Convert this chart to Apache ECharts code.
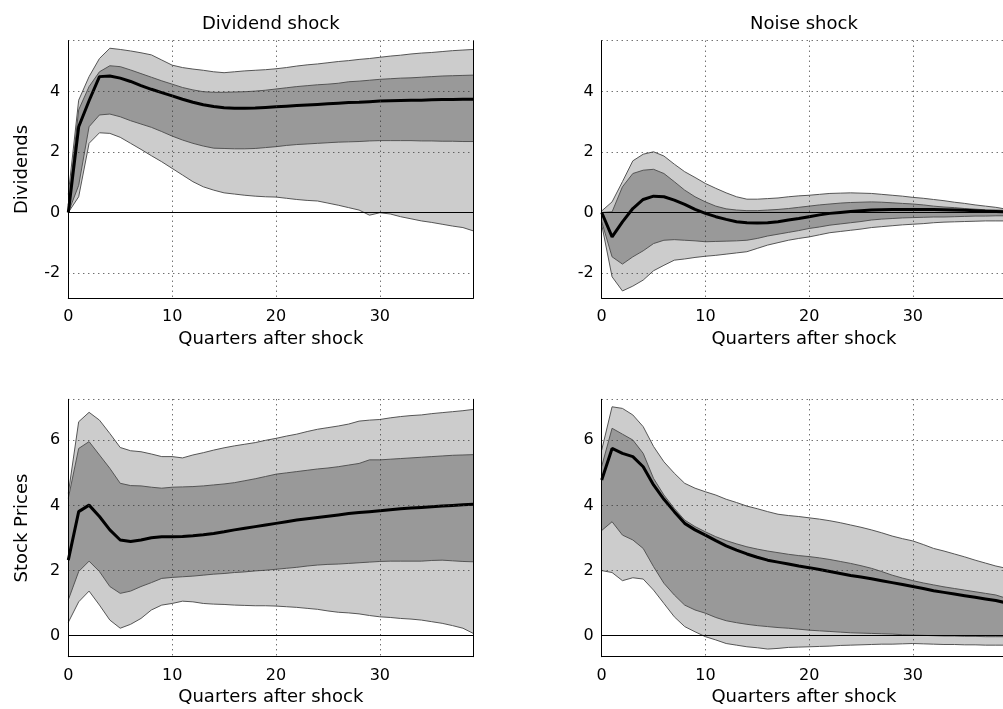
<!DOCTYPE html>
<html><head><meta charset="utf-8">
<script src="https://cdn.jsdelivr.net/npm/echarts@6/dist/echarts.min.js"></script>
<style>html,body{margin:0;padding:0;background:#fff}#c{width:1003px;height:709px}</style>
</head><body><div id="c"></div>
<script>
// ---- data ----
const quarters = Array.from({length: 40}, (_, i) => i);
const panelTitles = ['Dividend shock', 'Noise shock'];
const rowNames = ['Dividends', 'Stock Prices'];
const xAxisName = 'Quarters after shock';

// Dividends response to dividend shock
const divDiv_med  = [0, 2.84, 3.70, 4.50, 4.52, 4.45, 4.34, 4.20, 4.08, 3.97, 3.86, 3.75, 3.65, 3.57, 3.51, 3.47, 3.45, 3.45, 3.46, 3.48, 3.50, 3.52, 3.54, 3.56, 3.58, 3.60, 3.62, 3.64, 3.65, 3.67, 3.69, 3.70, 3.71, 3.72, 3.72, 3.73, 3.74, 3.74, 3.75, 3.75];
const divDiv_hi68 = [0.25, 3.40, 4.17, 4.66, 4.86, 4.83, 4.72, 4.60, 4.48, 4.36, 4.25, 4.14, 4.06, 4.00, 3.98, 3.98, 3.99, 4.00, 4.02, 4.05, 4.09, 4.13, 4.17, 4.20, 4.23, 4.25, 4.28, 4.33, 4.35, 4.38, 4.41, 4.43, 4.45, 4.46, 4.48, 4.50, 4.52, 4.53, 4.54, 4.55];
const divDiv_lo68 = [0, 0.90, 2.84, 3.23, 3.26, 3.17, 3.04, 2.93, 2.82, 2.68, 2.53, 2.40, 2.29, 2.20, 2.13, 2.12, 2.11, 2.11, 2.12, 2.15, 2.18, 2.22, 2.25, 2.27, 2.29, 2.31, 2.33, 2.34, 2.35, 2.37, 2.38, 2.38, 2.38, 2.38, 2.37, 2.37, 2.36, 2.36, 2.35, 2.35];
const divDiv_hi90 = [0.60, 3.72, 4.50, 5.10, 5.44, 5.40, 5.35, 5.29, 5.22, 5.05, 4.88, 4.80, 4.75, 4.71, 4.66, 4.63, 4.66, 4.69, 4.71, 4.73, 4.76, 4.80, 4.85, 4.89, 4.92, 4.96, 5.00, 5.03, 5.07, 5.10, 5.14, 5.18, 5.21, 5.25, 5.28, 5.30, 5.33, 5.36, 5.38, 5.40];
const divDiv_lo90 = [0, 0.52, 2.29, 2.64, 2.62, 2.49, 2.29, 2.09, 1.88, 1.68, 1.46, 1.24, 1.02, 0.85, 0.74, 0.65, 0.61, 0.57, 0.54, 0.52, 0.51, 0.47, 0.43, 0.40, 0.38, 0.31, 0.24, 0.16, 0.08, -0.09, -0.01, -0.05, -0.14, -0.21, -0.28, -0.33, -0.39, -0.45, -0.50, -0.61];

// Dividends response to noise shock
const divNoise_med  = [0, -0.81, -0.31, 0.13, 0.43, 0.54, 0.52, 0.41, 0.27, 0.10, -0.03, -0.14, -0.23, -0.31, -0.34, -0.35, -0.34, -0.31, -0.25, -0.20, -0.14, -0.08, -0.03, 0.00, 0.03, 0.06, 0.08, 0.09, 0.10, 0.10, 0.10, 0.10, 0.10, 0.09, 0.08, 0.07, 0.06, 0.04, 0.03, 0.02];
const divNoise_hi68 = [0, 0.02, 0.85, 1.29, 1.40, 1.43, 1.29, 1.02, 0.74, 0.52, 0.35, 0.21, 0.12, 0.08, 0.06, 0.06, 0.08, 0.10, 0.13, 0.17, 0.21, 0.25, 0.28, 0.31, 0.33, 0.34, 0.35, 0.34, 0.32, 0.30, 0.28, 0.25, 0.21, 0.18, 0.16, 0.13, 0.11, 0.09, 0.08, 0.07];
const divNoise_lo68 = [-0.30, -1.47, -1.71, -1.47, -1.27, -1.03, -0.92, -0.90, -0.92, -0.94, -0.97, -0.96, -0.95, -0.94, -0.92, -0.86, -0.78, -0.72, -0.66, -0.60, -0.53, -0.48, -0.42, -0.38, -0.34, -0.30, -0.25, -0.22, -0.20, -0.18, -0.17, -0.16, -0.15, -0.15, -0.14, -0.13, -0.12, -0.12, -0.11, -0.11];
const divNoise_hi90 = [0.05, 0.35, 1.02, 1.71, 1.93, 2.01, 1.87, 1.60, 1.35, 1.16, 0.96, 0.80, 0.65, 0.52, 0.44, 0.44, 0.46, 0.48, 0.52, 0.55, 0.57, 0.60, 0.63, 0.64, 0.65, 0.64, 0.63, 0.60, 0.57, 0.54, 0.50, 0.47, 0.43, 0.39, 0.34, 0.30, 0.25, 0.21, 0.17, 0.11];
const divNoise_lo90 = [-0.40, -2.13, -2.60, -2.44, -2.24, -1.93, -1.75, -1.58, -1.54, -1.49, -1.45, -1.42, -1.38, -1.34, -1.30, -1.19, -1.08, -1.00, -0.92, -0.86, -0.81, -0.74, -0.67, -0.63, -0.59, -0.55, -0.50, -0.47, -0.44, -0.41, -0.39, -0.37, -0.34, -0.32, -0.31, -0.30, -0.29, -0.28, -0.28, -0.28];

// Stock prices response to dividend shock
const spDiv_med  = [2.32, 3.81, 4.01, 3.66, 3.25, 2.94, 2.89, 2.94, 3.01, 3.04, 3.04, 3.05, 3.07, 3.10, 3.14, 3.19, 3.25, 3.30, 3.35, 3.40, 3.45, 3.50, 3.55, 3.59, 3.63, 3.67, 3.71, 3.75, 3.78, 3.81, 3.84, 3.87, 3.90, 3.92, 3.94, 3.96, 3.98, 4.00, 4.02, 4.04];
const spDiv_hi68 = [4.22, 5.75, 5.96, 5.55, 5.14, 4.68, 4.61, 4.60, 4.56, 4.53, 4.56, 4.57, 4.58, 4.60, 4.63, 4.66, 4.70, 4.76, 4.82, 4.89, 4.96, 5.00, 5.04, 5.08, 5.12, 5.15, 5.19, 5.24, 5.29, 5.40, 5.40, 5.42, 5.44, 5.46, 5.48, 5.50, 5.52, 5.54, 5.55, 5.56];
const spDiv_lo68 = [1.10, 1.97, 2.29, 1.97, 1.51, 1.30, 1.37, 1.51, 1.63, 1.76, 1.79, 1.81, 1.83, 1.86, 1.89, 1.91, 1.94, 1.96, 1.99, 2.01, 2.04, 2.07, 2.10, 2.14, 2.17, 2.19, 2.20, 2.22, 2.24, 2.26, 2.28, 2.29, 2.29, 2.29, 2.29, 2.31, 2.32, 2.30, 2.28, 2.27];
const spDiv_hi90 = [4.37, 6.57, 6.86, 6.62, 6.21, 5.78, 5.68, 5.65, 5.58, 5.50, 5.50, 5.46, 5.55, 5.62, 5.70, 5.77, 5.83, 5.88, 5.93, 6.00, 6.06, 6.13, 6.19, 6.27, 6.34, 6.39, 6.44, 6.50, 6.59, 6.62, 6.64, 6.69, 6.73, 6.76, 6.78, 6.82, 6.85, 6.88, 6.91, 6.95];
const spDiv_lo90 = [0.41, 1.04, 1.37, 0.94, 0.48, 0.23, 0.35, 0.53, 0.79, 0.94, 0.99, 1.06, 1.04, 0.99, 0.97, 0.96, 0.94, 0.93, 0.92, 0.92, 0.91, 0.89, 0.87, 0.84, 0.81, 0.76, 0.72, 0.70, 0.67, 0.62, 0.58, 0.56, 0.53, 0.51, 0.48, 0.43, 0.38, 0.31, 0.23, 0.07];

// Stock prices response to noise shock
const spNoise_med  = [4.78, 5.75, 5.60, 5.50, 5.19, 4.63, 4.19, 3.81, 3.45, 3.25, 3.09, 2.92, 2.76, 2.63, 2.51, 2.41, 2.32, 2.26, 2.20, 2.14, 2.09, 2.03, 1.97, 1.91, 1.85, 1.80, 1.75, 1.69, 1.63, 1.57, 1.51, 1.45, 1.38, 1.33, 1.28, 1.23, 1.18, 1.13, 1.08, 1.01];
const spNoise_hi68 = [5.20, 6.37, 6.19, 6.01, 5.60, 4.83, 4.32, 3.91, 3.55, 3.35, 3.19, 3.04, 2.92, 2.82, 2.73, 2.66, 2.60, 2.55, 2.50, 2.46, 2.43, 2.39, 2.34, 2.28, 2.22, 2.15, 2.07, 1.97, 1.86, 1.77, 1.69, 1.62, 1.56, 1.50, 1.45, 1.40, 1.35, 1.30, 1.25, 1.15];
const spNoise_lo68 = [3.23, 3.50, 3.09, 2.94, 2.68, 2.12, 1.61, 1.25, 0.94, 0.79, 0.69, 0.56, 0.46, 0.40, 0.35, 0.31, 0.28, 0.25, 0.23, 0.20, 0.17, 0.15, 0.13, 0.11, 0.09, 0.08, 0.07, 0.06, 0.05, 0.03, 0.02, 0.01, 0.00, -0.01, -0.01, -0.02, -0.02, -0.03, -0.03, -0.03];
const spNoise_hi90 = [5.70, 7.03, 6.98, 6.78, 6.42, 5.81, 5.34, 4.99, 4.68, 4.53, 4.42, 4.32, 4.19, 4.09, 3.98, 3.90, 3.81, 3.73, 3.69, 3.66, 3.62, 3.58, 3.53, 3.47, 3.40, 3.33, 3.25, 3.16, 3.06, 2.98, 2.91, 2.80, 2.68, 2.60, 2.51, 2.42, 2.32, 2.23, 2.14, 2.07];
const spNoise_lo90 = [2.00, 1.94, 1.69, 1.78, 1.74, 1.40, 0.99, 0.58, 0.28, 0.12, -0.03, -0.13, -0.24, -0.29, -0.34, -0.37, -0.41, -0.39, -0.36, -0.35, -0.34, -0.33, -0.32, -0.30, -0.29, -0.28, -0.27, -0.26, -0.26, -0.25, -0.24, -0.25, -0.26, -0.27, -0.27, -0.28, -0.28, -0.29, -0.29, -0.29];

const rowYRange = [[-2.84, 5.69], [-0.645, 7.26]];
const xTickStep = 10;

// ---- chart ----
const FONT = 'DejaVu Sans';
const panels = [
  {med: divDiv_med, hi68: divDiv_hi68, lo68: divDiv_lo68, hi90: divDiv_hi90, lo90: divDiv_lo90},
  {med: divNoise_med, hi68: divNoise_hi68, lo68: divNoise_lo68, hi90: divNoise_hi90, lo90: divNoise_lo90},
  {med: spDiv_med, hi68: spDiv_hi68, lo68: spDiv_lo68, hi90: spDiv_hi90, lo90: spDiv_lo90},
  {med: spNoise_med, hi68: spNoise_hi68, lo68: spNoise_lo68, hi90: spNoise_hi90, lo90: spNoise_lo90}
];
const gridBoxes = [
  {left: 68.3, top: 40.7, width: 405, height: 257.5},
  {left: 601.7, top: 40.7, width: 404.5, height: 257.5},
  {left: 68.3, top: 399.3, width: 405, height: 257.4},
  {left: 601.7, top: 399.3, width: 404.5, height: 257.4}
];

const diff = (hi, lo) => hi.map((v, i) => +(v - lo[i]).toFixed(4));
const grids = gridBoxes.map(b => Object.assign({outerBoundsMode: 'none', containLabel: false}, b));
const xAxes = [], yAxes = [], series = [];
const dotted = {color: '#333', width: 1, type: [1, 4]};
const atTick = (i) => i % xTickStep === 0;

gridBoxes.forEach((b, g) => {
  const row = Math.floor(g / 2), col = g % 2;
  xAxes.push({
    type: 'category', gridIndex: g, data: quarters, boundaryGap: false, z: 4,
    axisLine: {show: true, onZero: false, lineStyle: {color: '#000', width: 1}},
    axisTick: {show: false},
    axisLabel: {color: '#000', fontSize: 16, fontFamily: FONT, margin: 11, interval: atTick},
    splitLine: {show: true, interval: atTick, lineStyle: dotted},
    name: xAxisName, nameLocation: 'middle', nameGap: 32,
    nameTextStyle: {color: '#000', fontSize: 18, fontFamily: FONT}
  });
  yAxes.push({
    type: 'value', gridIndex: g, min: rowYRange[row][0], max: rowYRange[row][1], splitNumber: 5, z: 4,
    axisLine: {show: true, onZero: false, lineStyle: {color: '#000', width: 1}},
    axisTick: {show: false},
    axisLabel: {color: '#000', fontSize: 16, fontFamily: FONT, margin: 8, showMinLabel: false, showMaxLabel: false},
    splitLine: {show: true, lineStyle: dotted},
    name: col === 0 ? rowNames[row] : '', nameLocation: 'middle', nameGap: 37,
    nameTextStyle: {color: '#000', fontSize: 18, fontFamily: FONT}
  });
});
// right-hand frame lines
gridBoxes.forEach((b, g) => {
  yAxes.push({
    type: 'value', gridIndex: g, position: 'right', min: 0, max: 1, z: 4,
    axisLine: {show: true, lineStyle: {color: '#000', width: 1}},
    axisTick: {show: false}, axisLabel: {show: false}, splitLine: {show: false}
  });
});

panels.forEach((p, g) => {
  const common = {type: 'line', xAxisIndex: g, yAxisIndex: g, symbol: 'none', silent: true, z: 2};
  const hidden = {opacity: 0, width: 0};
  series.push(Object.assign({}, common, {stack: 'o' + g, stackStrategy: 'all', data: p.lo90, lineStyle: hidden}));
  series.push(Object.assign({}, common, {stack: 'o' + g, stackStrategy: 'all', data: diff(p.hi90, p.lo90), lineStyle: hidden,
    areaStyle: {color: '#cccccc', opacity: 1}}));
  series.push(Object.assign({}, common, {stack: 'i' + g, stackStrategy: 'all', data: p.lo68, lineStyle: hidden}));
  series.push(Object.assign({}, common, {stack: 'i' + g, stackStrategy: 'all', data: diff(p.hi68, p.lo68), lineStyle: hidden,
    areaStyle: {color: '#999999', opacity: 1}}));
  const edge = {color: '#555555', width: 1};
  [p.lo90, p.hi90, p.lo68, p.hi68].forEach((arr, k) => {
    const s = Object.assign({}, common, {data: arr, lineStyle: edge});
    if (k === 0) {
      s.markLine = {silent: true, symbol: 'none', label: {show: false},
        lineStyle: {color: '#000', width: 1, type: 'solid'}, data: [{yAxis: 0}], animation: false};
    }
    series.push(s);
  });
  series.push({type: 'line', xAxisIndex: g, yAxisIndex: g, symbol: 'none', silent: true, z: 3,
    data: p.med, lineStyle: {color: '#000', width: 3}});
});

const titles = panelTitles.map((t, c) => ({
  text: t, left: gridBoxes[c].left + gridBoxes[c].width / 2, top: 15, textAlign: 'center', padding: 0,
  textStyle: {color: '#000', fontSize: 18, fontWeight: 'normal', fontFamily: FONT}
}));

const chart = echarts.init(document.getElementById('c'), null, {renderer: 'canvas'});
chart.setOption({
  animation: false,
  backgroundColor: '#fff',
  textStyle: {fontFamily: FONT},
  title: titles,
  grid: grids,
  xAxis: xAxes,
  yAxis: yAxes,
  series: series
});
</script>
</body></html>
